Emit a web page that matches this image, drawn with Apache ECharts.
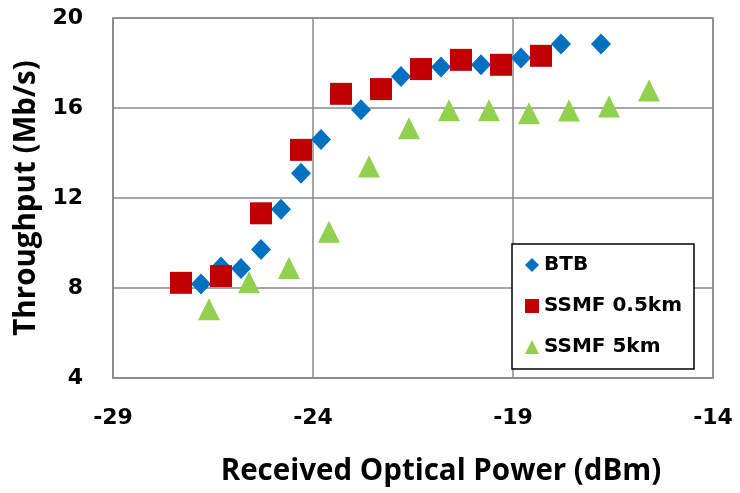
<!DOCTYPE html>
<html>
<head>
<meta charset="utf-8">
<script src="https://cdn.jsdelivr.net/npm/echarts@6/dist/echarts.min.js"></script>
<style>
  html, body { margin: 0; padding: 0; background: #fff; }
  #chart { width: 740px; height: 493px; }
</style>
</head>
<body>
<div id="chart"></div>
<script>
// Received optical power (dBm) and throughput (Mb/s) per link
const btbX = [-26.8, -26.3, -25.8, -25.3, -24.8, -24.3, -23.8, -22.8, -21.8, -20.8, -19.8, -18.8, -17.8, -16.8];
const btbY = [8.18, 8.93, 8.87, 9.71, 11.5, 13.1, 14.6, 15.92, 17.4, 17.82, 17.92, 18.22, 18.84, 18.84];

const ssmf05X = [-27.3, -26.3, -25.3, -24.3, -23.3, -22.3, -21.3, -20.3, -19.3, -18.3];
const ssmf05Y = [8.23, 8.53, 11.32, 14.14, 16.63, 16.84, 17.73, 18.14, 17.92, 18.32];

const ssmf5X = [-26.6, -25.6, -24.6, -23.6, -22.6, -21.6, -20.6, -19.6, -18.6, -17.6, -16.6, -15.6];
const ssmf5Y = [7.06, 8.26, 8.89, 10.5, 13.4, 15.1, 15.9, 15.9, 15.77, 15.89, 16.07, 16.78];

const seriesNames = ['BTB', 'SSMF 0.5km', 'SSMF 5km'];
const xTitle = 'Received Optical Power (dBm)';
const yTitle = 'Throughput (Mb/s)';

function pairs(xs, ys) {
  return xs.map((x, i) => [x, ys[i]]);
}

const gridGrey = '#8a8a8a';
const tickFont = { fontFamily: 'DejaVu Sans', fontWeight: 'bold', fontSize: 22, color: '#000' };
const titleFont = { fontFamily: 'Open Sans', fontWeight: 'bold', fontSize: 29.5, color: '#000' };

const chart = echarts.init(document.getElementById('chart'), null, { renderer: 'canvas' });
chart.setOption({
  animation: false,
  backgroundColor: '#fff',
  grid: {
    left: 113, top: 18, width: 600, height: 360,
    show: true, borderColor: gridGrey, borderWidth: 1.5, backgroundColor: 'transparent'
  },
  legend: {
    orient: 'vertical',
    left: 512, top: 244,
    padding: [10, 12, 11, 13],
    itemGap: 19,
    itemWidth: 14, itemHeight: 14,
    backgroundColor: '#fff',
    borderColor: '#000', borderWidth: 1.5, borderRadius: 0,
    textStyle: { fontFamily: 'DejaVu Sans', fontWeight: 'bold', fontSize: 20, color: '#000', lineHeight: 22 },
    data: seriesNames
  },
  xAxis: {
    type: 'value', min: -29, max: -14, interval: 5,
    name: xTitle, nameLocation: 'middle', nameGap: 79,
    nameTextStyle: Object.assign({ padding: [0, 0, 0, 56] }, titleFont),
    axisLine: { show: true, lineStyle: { color: gridGrey, width: 1.5 } },
    axisTick: { show: false },
    axisLabel: Object.assign({ margin: 29 }, tickFont),
    splitLine: { show: true, lineStyle: { color: gridGrey, width: 1.5 } }
  },
  yAxis: {
    type: 'value', min: 4, max: 20, interval: 4,
    name: yTitle, nameLocation: 'middle', nameGap: 70, nameRotate: 90,
    nameTextStyle: titleFont,
    axisLine: { show: true, lineStyle: { color: gridGrey, width: 1.5 } },
    axisTick: { show: false },
    axisLabel: Object.assign({ margin: 30, padding: [7, 0, 0, 0] }, tickFont),
    splitLine: { show: true, lineStyle: { color: gridGrey, width: 1.5 } }
  },
  series: [
    {
      name: seriesNames[0], type: 'scatter', symbol: 'diamond', symbolSize: [20, 21],
      itemStyle: { color: '#0070C0', opacity: 1 },
      data: pairs(btbX, btbY), z: 2
    },
    {
      name: seriesNames[1], type: 'scatter', symbol: 'rect', symbolSize: 22,
      itemStyle: { color: '#C00000', opacity: 1 },
      data: pairs(ssmf05X, ssmf05Y), z: 3
    },
    {
      name: seriesNames[2], type: 'scatter', symbol: 'triangle', symbolSize: 22,
      itemStyle: { color: '#92D050', opacity: 1 },
      data: pairs(ssmf5X, ssmf5Y), z: 4
    }
  ]
});
</script>
</body>
</html>
